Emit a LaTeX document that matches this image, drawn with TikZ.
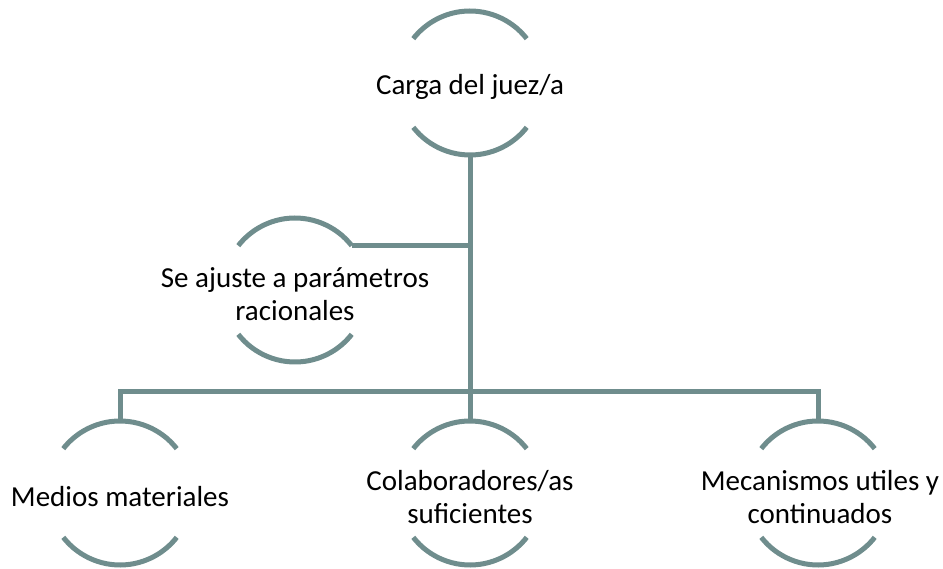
\documentclass[tikz,border=0pt]{standalone}
\usepackage{fontspec}
\setmainfont{Carlito}
\usepackage{tikz}
\definecolor{ringgray}{RGB}{111,141,141}

\begin{document}
\begin{tikzpicture}[x=1pt,y=-1pt]
            \tikzstyle{ring}=[circle,minimum size=144pt,inner sep=0pt,outer sep=0pt]
            \tikzstyle{label}=[align=center,inner sep=0pt,yshift=-4pt,font=\fontsize{29}{33}\selectfont]
            \tikzstyle{line}=[draw=ringgray,line width=5pt]
            \useasboundingbox (0,0) rectangle (943,569);
            \node[ring] (carga) at (470,83) {};
            \node[ring] (ajuste) at (295,290) {};
            \node[ring] (medios) at (120,493) {};
            \node[ring] (colab) at (470,493) {};
            \node[ring] (meca) at (818,493) {};
            \node[label] (cargatxt) at (carga) {Carga del juez/a};
            \node[label] (ajustetxt) at (ajuste) {Se ajuste a parámetros\\racionales};
            \node[label] (mediostxt) at (medios) {Medios materiales};
            \node[label] (colabtxt) at (colab) {Colaboradores/as\\suficientes};
            \node[label] (mecatxt) at ([xshift=2pt]meca.center) {Mecanismos utiles y\\continuados};
            \foreach \n in {carga,ajuste,medios,colab,meca}
                \draw[line] (\n.38) arc[start angle=38,end angle=142,radius=72pt]
                            (\n.218) arc[start angle=218,end angle=322,radius=72pt];
            \coordinate (bus) at (470,392);
            \draw[line] (carga.south) -- (colab.north);
            \draw[line] (ajuste.38) -- (ajuste.38 -| carga.south);
            \draw[line] (medios.north) |- (bus) -| (meca.north);
\end{tikzpicture}
\end{document}
